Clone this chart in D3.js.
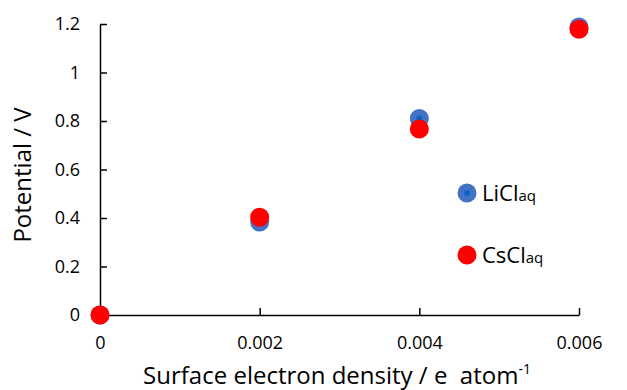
<!DOCTYPE html>
<html>
<head>
<meta charset="utf-8">
<script src="https://cdn.jsdelivr.net/npm/d3@7"></script>
<style>
  body { margin: 0; background: #fff; }
  text { font-family: "Open Sans", "Liberation Sans", sans-serif; fill: #000; }
</style>
</head>
<body>
<svg id="svg" width="627" height="390"></svg>
<script>
// -- data
var xTicks = [0, 0.002, 0.004, 0.006];
var yTicks = [0, 0.2, 0.4, 0.6, 0.8, 1, 1.2];
var density = [0, 0.002, 0.004, 0.006];
var licl = [0, 0.383, 0.81, 1.188];
var cscl = [0, 0.403, 0.767, 1.178];

var svg = d3.select("svg#svg");

var x = d3.scaleLinear().domain([0, 0.006]).range([100, 579]);
var y = d3.scaleLinear().domain([0, 1.2]).range([315, 24]);

// - y axis, ticks pointing inwards
var yAxis = svg.append("g")
    .attr("transform", "translate(100,0)")
    .call(d3.axisLeft(y).tickValues(yTicks).tickSizeInner(-7).tickSizeOuter(0)
        .tickFormat(function(d) { return d3.format("~g")(d); }));
yAxis.select(".domain").attr("stroke", "#000").attr("stroke-width", 1.5);
yAxis.selectAll(".tick line").attr("stroke", "#000").attr("stroke-width", 1.5);
yAxis.selectAll(".tick text").attr("x", -20).attr("font-size", 18)
    .style("font-family", "'Open Sans', sans-serif");

// - x axis
var xAxis = svg.append("g")
    .attr("transform", "translate(0,315)")
    .call(d3.axisBottom(x).tickValues(xTicks).tickSizeInner(-7).tickSizeOuter(0)
        .tickFormat(function(d) { return d === 0 ? "0" : d3.format(".3f")(d); }));
xAxis.select(".domain").attr("stroke", "#000").attr("stroke-width", 1.5);
xAxis.selectAll(".tick line").attr("stroke", "#000").attr("stroke-width", 1.5);
xAxis.selectAll(".tick text").attr("y", 34).attr("dy", null).attr("font-size", 18)
    .style("font-family", "'Open Sans', sans-serif");

// - axis titles
svg.append("text")
    .attr("x", 337).attr("y", 384)
    .attr("text-anchor", "middle")
    .attr("font-size", 24)
    .html('Surface electron density / e&#160;&#160;atom<tspan dy="-10" font-size="14">-1</tspan>');

svg.append("text")
    .attr("transform", "translate(31,175) rotate(-90)")
    .attr("text-anchor", "middle")
    .attr("font-size", 24)
    .text("Potential / V");

// - points
var plot = svg.append("g").attr("id", "plot-area");
var pts = density.map(function(d, i) { return { x: d, li: licl[i], cs: cscl[i] }; });

plot.selectAll("circle.li").data(pts).enter()
    .append("circle").attr("class", "li")
    .attr("cx", function(d) { return x(d.x); })
    .attr("cy", function(d) { return y(d.li); })
    .attr("r", 9.5)
    .style("fill", "#4472C4");
plot.selectAll("circle.lidot").data(pts).enter()
    .append("circle").attr("class", "lidot")
    .attr("cx", function(d) { return x(d.x); })
    .attr("cy", function(d) { return y(d.li); })
    .attr("r", 3)
    .style("fill", "#0a66c2");

plot.selectAll("circle.cs").data(pts).enter()
    .append("circle").attr("class", "cs")
    .attr("cx", function(d) { return x(d.x); })
    .attr("cy", function(d) { return y(d.cs); })
    .attr("r", 9.5)
    .style("fill", "#FF0000");

// - legend
var legend = svg.append("g");
legend.append("circle").attr("cx", 467).attr("cy", 193).attr("r", 9.5).style("fill", "#4472C4");
legend.append("circle").attr("cx", 467).attr("cy", 193).attr("r", 3).style("fill", "#0a66c2");
legend.append("circle").attr("cx", 467).attr("cy", 255).attr("r", 9.5).style("fill", "#FF0000");

legend.append("text").attr("x", 482).attr("y", 201).attr("font-size", 22)
    .html('LiCl<tspan font-size="15">aq</tspan>');
legend.append("text").attr("x", 482).attr("y", 263).attr("font-size", 22)
    .html('CsCl<tspan font-size="15">aq</tspan>');
</script>
</body>
</html>
